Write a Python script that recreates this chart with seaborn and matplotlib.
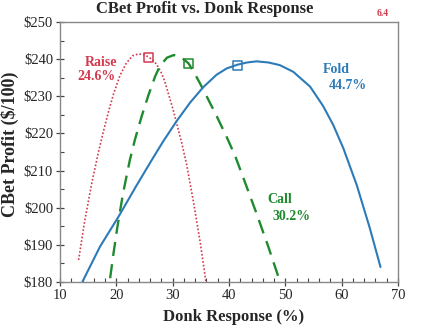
import matplotlib
matplotlib.use("Agg")
import matplotlib.pyplot as plt
import seaborn as sns
from matplotlib.ticker import MultipleLocator, FuncFormatter

# ---- data ----
raise_x = [13.3, 14.4, 15.6, 16.8, 17.7, 18.6, 19.5, 20.65, 21.8, 22.9, 23.9, 24.9, 25.7, 26.5, 27.2, 28.0, 28.6,
           30.1, 31.6, 32.5, 33.7, 34.9, 35.9]
raise_y = [185.9, 196.5, 206.3, 214.8, 220.5, 225.8, 230.6, 235.6, 239.0, 240.9, 241.4, 241.2, 240.6, 239.7, 238.5,
           236.3, 234.0, 226.3, 217.5, 211.5, 201.5, 190.6, 180.1]

call_x = [18.9, 19.5, 20.2, 21.2, 22.4, 23.3, 24.5, 25.7, 26.9, 27.75, 29.0, 30.2, 31.5, 32.8, 34.0, 35.4, 37.8,
          39.6, 41.1, 42.8, 44.9, 47.0, 49.05]
call_y = [181.0, 187.7, 194.9, 203.9, 212.8, 218.3, 224.6, 230.3, 235.4, 238.2, 240.4, 241.1, 240.5, 238.9, 235.9,
          231.9, 224.7, 219.0, 213.9, 207.0, 198.4, 189.4, 180.1]

fold_x = [14.0, 17.1, 20.4, 23.6, 26.2, 28.3, 30.7, 33.1, 35.4, 37.8, 39.6, 41.5, 43.2, 44.9, 47.0, 49.0, 51.4,
          54.4, 56.7, 58.5, 60.3, 62.7, 65.0, 66.9]
fold_y = [180.1, 189.5, 197.6, 206.0, 212.6, 217.8, 223.3, 228.3, 232.4, 235.8, 237.5, 238.5, 239.1, 239.4, 239.1,
          238.4, 236.6, 232.6, 227.4, 222.3, 216.0, 206.0, 194.5, 184.0]

mark_x = [25.7, 32.8, 41.5]
mark_y = [240.5, 238.9, 238.2]

x_ticks = [10, 20, 30, 40, 50, 60, 70]
y_ticks = [180, 190, 200, 210, 220, 230, 240, 250]

c_red = "#d23a4e"
c_green = "#1f8a2f"
c_blue = "#2c7bb8"

sns.set_style("ticks")
plt.rcParams["font.family"] = ["Liberation Serif", "DejaVu Serif"]

fig = plt.figure(figsize=(4.27, 3.36), dpi=100)
ax = fig.add_axes([0.1405, 0.161, 0.7915, 0.7735])

sns.lineplot(x=raise_x, y=raise_y, color=c_red, linestyle=(0, (1, 1.2)), linewidth=1.2, ax=ax, sort=False)
sns.lineplot(x=call_x, y=call_y, color=c_green, linestyle=(0, (6, 3.5)), linewidth=1.7, ax=ax, sort=False)
sns.lineplot(x=fold_x, y=fold_y, color=c_blue, linestyle="-", linewidth=1.5, ax=ax, sort=False)

for xv, yv, c in zip(mark_x, mark_y, [c_red, c_green, c_blue]):
    sns.scatterplot(x=[xv], y=[yv], marker="s", s=45, facecolors="none", edgecolors=c, linewidth=1.1, ax=ax)

ax.set_xlim(10, 70)
ax.set_ylim(180, 250)
ax.set_xticks(x_ticks)
ax.set_yticks(y_ticks)
ax.xaxis.set_minor_locator(MultipleLocator(2))
ax.yaxis.set_minor_locator(MultipleLocator(5))
ax.yaxis.set_major_formatter(FuncFormatter(lambda v, p: f"${v:.0f}"))
ax.tick_params(which="major", direction="inout", length=6, width=0.9, color="#444444", labelsize=10.5, pad=2)
ax.tick_params(which="minor", direction="in", length=3, width=0.8, color="#444444")
for s in ax.spines.values():
    s.set_color("#888888")
    s.set_linewidth(1.0)

fig.text(205 / 427, 1 - 9 / 336, "CBet Profit vs. Donk Response", fontsize=12, fontweight="bold",
         ha="center", va="center")
ax.set_xlabel("Donk Response (%)", fontsize=12, fontweight="bold")
ax.xaxis.set_label_coords((234 - 60) / 338, -(309 - 282) / 260)
ax.set_ylabel("CBet Profit ($/100)", fontsize=13, fontweight="bold")
ax.yaxis.set_label_coords((19 - 60) / 338, (282 - 144) / 260)

ax.text(20.1, 239.2, "Raise", color=c_red, fontsize=10, fontweight="bold", ha="right", va="center")
ax.text(19.8, 235.2, "24.6%", color=c_red, fontsize=10, fontweight="bold", ha="right", va="center")
ax.text(56.7, 237.1, "Fold", color=c_blue, fontsize=10, fontweight="bold", ha="left", va="center")
ax.text(57.8, 232.8, "44.7%", color=c_blue, fontsize=10, fontweight="bold", ha="left", va="center")
ax.text(46.9, 202.1, "Call", color=c_green, fontsize=10, fontweight="bold", ha="left", va="center")
ax.text(47.8, 197.5, "30.2%", color=c_green, fontsize=10, fontweight="bold", ha="left", va="center")

fig.text(383 / 427, 1 - 13 / 336, "6.4", color=c_red, fontsize=7, fontweight="bold", ha="center", va="center")

fig.savefig("out.png", dpi=100)
